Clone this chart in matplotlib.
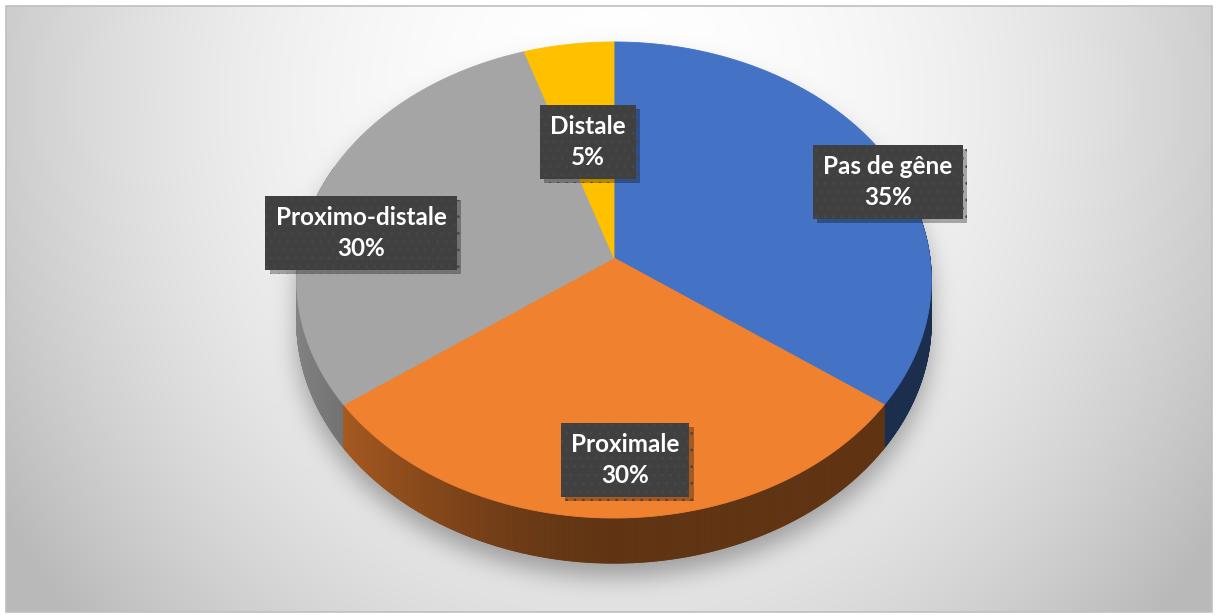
import numpy as np
import matplotlib
matplotlib.use("Agg")
import matplotlib.pyplot as plt
from matplotlib.path import Path
from matplotlib.patches import Polygon, Rectangle
from matplotlib.collections import PolyCollection
import matplotlib.patheffects as pe
from matplotlib.colors import to_rgb

# ---------------- data ----------------
categories = ['Pas de gêne', 'Proximale', 'Proximo-distale', 'Distale']
values = [35, 30, 30, 5]
colors = ['#4472C4', '#F0812F', '#A5A5A5', '#FFC000']

# ---------------- layout ----------------
W, H = 1217, 615
CX, CY = 614, 258          # pie centre on image
AX_R, BY_R = 316, 236      # radii of projected disc
PERSP = 0.0924             # perspective factor
DEPTH = 41                 # thickness of the pie
label_centers = [(888, 182), (625, 460), (361, 233), (588, 142)]

fig = plt.figure(figsize=(W / 100, H / 100), dpi=100)
fig.patch.set_facecolor('white')
ax = fig.add_axes([0, 0, 1, 1])
ax.set_xlim(0, W)
ax.set_ylim(H, 0)
ax.axis('off')


def proj(r, phi, dz=0.0):
    X = r * np.sin(phi)
    Z = -r * np.cos(phi)
    d = 1 - PERSP * Z
    return CX + AX_R * X / d, CY + BY_R * Z / d + DEPTH * dz / d


# ---------------- background ----------------
x0, y0, x1, y1 = 6, 6, 1212, 612
yy, xx = np.mgrid[0:H, 0:W] + 0.5
r2 = ((xx - 614) / 640) ** 2 + ((yy - 100) / 700) ** 2
bg = np.clip(255 - 55 * r2, 185, 255) / 255.0
bg_img = np.dstack([bg, bg, bg])
inside = (xx >= x0) & (xx <= x1) & (yy >= y0) & (yy <= y1)
bg_img[~inside] = 1.0

# ---------------- shadow ----------------
phis = np.linspace(0, 2 * np.pi, 721)
tx, ty = proj(1.0, phis, 0)
bx, by = proj(1.0, phis, 1)
top_path = Path(np.column_stack([tx, ty + 16]))
bot_path = Path(np.column_stack([bx, by + 14]))
pts = np.column_stack([xx.ravel(), yy.ravel()])
mask = (top_path.contains_points(pts) | bot_path.contains_points(pts)).reshape(H, W).astype(float)
sig = 12.0
fy = np.fft.fftfreq(H)[:, None]
fx = np.fft.fftfreq(W)[None, :]
gk = np.exp(-2 * (np.pi ** 2) * sig ** 2 * (fx ** 2 + fy ** 2))
blur = np.real(np.fft.ifft2(np.fft.fft2(mask) * gk))
blur = np.clip(blur, 0, 1)
shadow_alpha = 0.32 * blur
shadow_alpha[~inside] = 0
img = bg_img * (1 - shadow_alpha[..., None])
ax.imshow(img, extent=(0, W, H, 0), interpolation='bilinear', zorder=0)
ax.add_patch(Rectangle((x0, y0), x1 - x0, y1 - y0, fill=False, edgecolor='#bfbfbf', lw=1.2, zorder=1))

# ---------------- slices ----------------
total = float(sum(values))
bounds = np.concatenate([[0], np.cumsum(values)]) / total * 2 * np.pi


def slice_index(phi):
    phi = phi % (2 * np.pi)
    return min(np.searchsorted(bounds, phi, side='right') - 1, len(values) - 1)


# side faces (painter's algorithm: back to front)
N = 1440
edges = np.linspace(0, 2 * np.pi, N + 1)
polys, fcs, zs = [], [], []
for i in range(N):
    a, b = edges[i], edges[i + 1]
    m = 0.5 * (a + b)
    Zm = -np.cos(m)
    if Zm < -0.4:
        continue
    ax_, ay_ = proj(1.0, a, 0)
    bx_, by_ = proj(1.0, b, 0)
    cx_, cy_ = proj(1.0, b, 1)
    dx_, dy_ = proj(1.0, a, 1)
    Xm = np.sin(m)
    f = 0.40 + 0.40 * max(0.0, -Xm) ** 1.5
    base = np.array(to_rgb(colors[slice_index(m)]))
    c = np.clip(base * f, 0, 1)
    polys.append([(ax_, ay_), (bx_, by_), (cx_, cy_), (dx_, dy_)])
    fcs.append(c)
    zs.append(Zm)
order = np.argsort(zs)
pc = PolyCollection([polys[k] for k in order], facecolors=[fcs[k] for k in order],
                    edgecolors=[fcs[k] for k in order], linewidths=0.6, zorder=2)
ax.add_collection(pc)

# top faces
for i, v in enumerate(values):
    ph = np.linspace(bounds[i], bounds[i + 1], 200)
    px, py = proj(1.0, ph, 0)
    verts = np.vstack([[CX, CY], np.column_stack([px, py])])
    ax.add_patch(Polygon(verts, closed=True, facecolor=colors[i], edgecolor=colors[i],
                         lw=0.6, zorder=3))

# ---------------- labels ----------------
plt.rcParams['hatch.linewidth'] = 0.8
for i, (lab, v) in enumerate(zip(categories, values)):
    lx, ly = label_centers[i]
    t = ax.text(lx, ly, f"{lab}\n{v}%", ha='center', va='center', color='white',
                fontsize=17.5, fontweight='bold', family=['Lato', 'DejaVu Sans'],
                linespacing=1.4, zorder=6,
                bbox=dict(boxstyle='square,pad=0.42', facecolor='#404040',
                          edgecolor='#474747', lw=0, hatch='..'))
    t.get_bbox_patch().set_path_effects([
        pe.withSimplePatchShadow(offset=(3, -3), shadow_rgbFace='black', alpha=0.3)])

fig.savefig('out.png', dpi=100, facecolor='white')
